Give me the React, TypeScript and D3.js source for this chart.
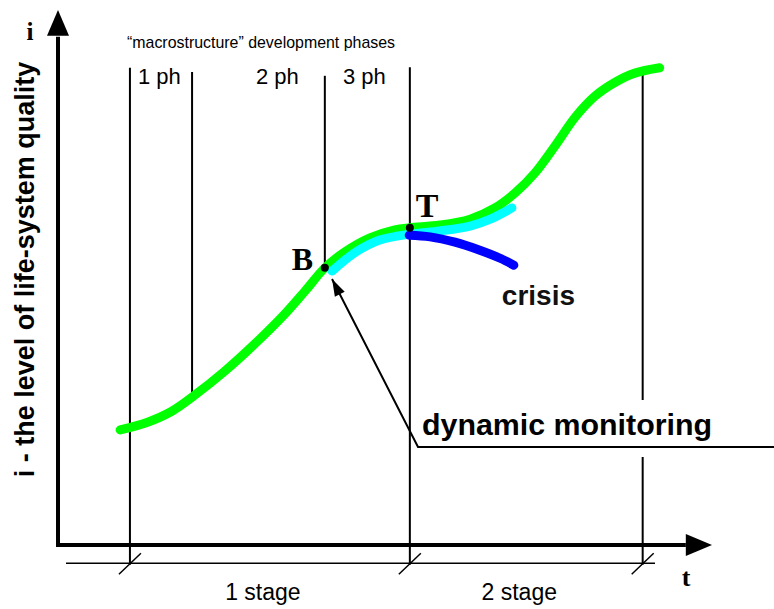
import * as d3 from "d3";

/** svg dimensions */
const width = 774;
const height = 609;

/** curve data: t (time) and i (life-system quality level), both on a 0..100 scale */
const greenT = [9.5, 13.8, 17.4, 20.9, 25.5, 30.1, 34.7, 37.8, 40.8, 43.9, 47.7, 51.5, 53.8, 58.4, 63.0, 66.8, 69.9, 72.9, 76.0, 79.1, 82.1, 85.2, 88.2, 92.0];
const greenI = [21.5, 23.0, 25.0, 28.0, 32.5, 37.6, 43.2, 47.5, 51.8, 54.8, 57.4, 58.9, 59.3, 59.8, 60.9, 63.0, 65.8, 69.5, 74.6, 80.0, 83.9, 86.5, 88.2, 89.2];

const monitorT = [41.9, 45.6, 49.2, 53.8, 58.4, 63.0, 66.1, 69.4];
const monitorI = [51.2, 54.8, 57.0, 58.1, 58.7, 59.6, 60.9, 63.0];

const crisisT = [53.7, 56.9, 60.7, 64.5, 67.6, 69.7];
const crisisI = [57.9, 57.6, 56.6, 55.1, 53.6, 52.3];

/** phase boundaries (vertical lines) */
const phaseT = [11.0, 20.5, 40.8, 53.8, 89.4];
const phaseTop = [89.2, 88.4, 87.7, 89.3, 88.4];
const phaseBottom = [-3.7, 28.0, 51.8, -3.7, -3.7];
const phaseLabels = ["1 ph", "2 ph", "3 ph"];

/** stages */
const stageBounds = [11.0, 53.8, 89.4];
const stageLabels = ["1 stage", "2 stage"];
const stageLevel = -3.4;

/** marked points */
const pointB = { t: 40.8, i: 51.8, label: "B" };
const pointT = { t: 53.8, i: 59.3, label: "T" };

const sans = "'Liberation Sans', Arial, sans-serif";
const serif = "'Liberation Serif', 'Times New Roman', serif";

const App = () => {
  const x = d3.scaleLinear().domain([0, 100]).range([58, 712]);
  const y = d3.scaleLinear().domain([0, 100]).range([545, 10]);

  const line = d3
    .line<[number, number]>()
    .x((d) => x(d[0]))
    .y((d) => y(d[1]))
    .curve(d3.curveCatmullRom.alpha(0.5));

  const zip = (ts: number[], is: number[]) =>
    ts.map((t, k) => [t, is[k]] as [number, number]);

  // leader arrow for "dynamic monitoring"
  const tail: [number, number] = [418, 447];
  const tip: [number, number] = [x(monitorT[0]), y(monitorI[0]) + 8];
  const dx = tip[0] - tail[0];
  const dy = tip[1] - tail[1];
  const len = Math.hypot(dx, dy);
  const ux = dx / len;
  const uy = dy / len;
  const headLen = 17;
  const headW = 5.5;
  const bx = tip[0] - ux * headLen;
  const by = tip[1] - uy * headLen;
  const head = [
    tip,
    [bx - uy * headW, by + ux * headW],
    [bx + uy * headW, by - ux * headW],
  ]
    .map((p) => p.join(","))
    .join(" ");

  const x0 = x(0);
  const y0 = y(0);

  return (
    <svg
      width={width}
      height={height}
      viewBox={[0, 0, width, height].join(" ")}
      style={{ position: "absolute", left: 0, top: 0, background: "#fff" }}
    >
      {/* phase lines */}
      {phaseT.map((t, k) => (
        <line
          key={`ph${k}`}
          x1={x(t)}
          x2={x(t)}
          y1={y(phaseTop[k])}
          y2={y(phaseBottom[k])}
          stroke="#000"
          strokeWidth={2}
        />
      ))}

      {/* title and phase labels */}
      <text
        x={127}
        y={48}
        fontFamily={"'Liberation Sans Narrow', 'Arial Narrow', " + sans}
        fontSize={17}
        textLength={268}
        lengthAdjust="spacingAndGlyphs"
      >
        “macrostructure” development phases
      </text>
      {phaseLabels.map((lab, k) => (
        <text
          key={lab}
          x={[138, 256, 343][k]}
          y={84}
          fontFamily={sans}
          fontSize={22}
        >
          {lab}
        </text>
      ))}

      {/* curves */}
      <path
        d={line(zip(greenT, greenI)) ?? ""}
        fill="none"
        stroke="#00ff00"
        strokeWidth={9}
        strokeLinecap="round"
      />
      <path
        d={line(zip(monitorT, monitorI)) ?? ""}
        fill="none"
        stroke="#00ffff"
        strokeWidth={9}
        strokeLinecap="round"
      />
      <path
        d={line(zip(crisisT, crisisI)) ?? ""}
        fill="none"
        stroke="#0000ff"
        strokeWidth={9}
        strokeLinecap="round"
      />

      {/* marked points */}
      {[pointB, pointT].map((p) => (
        <circle key={p.label} cx={x(p.t)} cy={y(p.i)} r={4} fill="#000" />
      ))}
      <text
        x={x(pointB.t) - 33}
        y={y(pointB.i) + 2}
        fontFamily={serif}
        fontWeight="bold"
        fontSize={32}
      >
        {pointB.label}
      </text>
      <text
        x={x(pointT.t) + 6}
        y={y(pointT.i) - 11}
        fontFamily={serif}
        fontWeight="bold"
        fontSize={34}
      >
        {pointT.label}
      </text>

      <text
        x={x(crisisT[crisisT.length - 1]) - 12}
        y={y(crisisI[crisisI.length - 1]) + 40}
        fontFamily={sans}
        fontWeight="bold"
        fontSize={28}
        fill="#111"
      >
        crisis
      </text>

      {/* dynamic monitoring callout */}
      <rect x={420} y={400} width={300} height={57} fill="#fff" />
      <text
        x={422}
        y={435}
        fontFamily={sans}
        fontWeight="bold"
        fontSize={29}
        textLength={290}
        lengthAdjust="spacingAndGlyphs"
      >
        dynamic monitoring
      </text>
      <polyline
        points={[tip, tail, [width, tail[1]]].map((p) => p.join(",")).join(" ")}
        fill="none"
        stroke="#000"
        strokeWidth={2}
      />
      <polygon points={head} fill="#000" />

      {/* axes */}
      <line x1={x0} x2={x0} y1={y0 + 2} y2={y(95)} stroke="#000" strokeWidth={4} />
      <polygon
        points={`${x0},${y(100)} ${x0 - 11},${y(95.2)} ${x0 + 11},${y(95.2)}`}
        fill="#000"
      />
      <line x1={x0 - 2} x2={x(96)} y1={y0} y2={y0} stroke="#000" strokeWidth={4} />
      <polygon
        points={`${x(100)},${y0} ${x(96)},${y0 - 11} ${x(96)},${y0 + 11}`}
        fill="#000"
      />
      <text x={30} y={40} textAnchor="middle" fontFamily={serif} fontWeight="bold" fontSize={25}>
        i
      </text>
      <text x={686} y={586} textAnchor="middle" fontFamily={serif} fontWeight="bold" fontSize={26}>
        t
      </text>
      <text
        transform={`translate(34, ${y(51.5)}) rotate(-90)`}
        textAnchor="middle"
        fontFamily={sans}
        fontWeight="bold"
        fontSize={27}
      >
        i - the level of life-system quality
      </text>

      {/* stage line with slashes */}
      <line
        x1={66}
        x2={655}
        y1={y(stageLevel)}
        y2={y(stageLevel)}
        stroke="#000"
        strokeWidth={1.5}
      />
      {stageBounds.map((t, k) => (
        <line
          key={`sl${k}`}
          x1={x(t) - 11}
          y1={y(stageLevel) + 11}
          x2={x(t) + 11}
          y2={y(stageLevel) - 10}
          stroke="#000"
          strokeWidth={1.5}
        />
      ))}
      {stageLabels.map((lab, k) => (
        <text
          key={lab}
          x={(x(stageBounds[k]) + x(stageBounds[k + 1])) / 2 - 7}
          y={600}
          textAnchor="middle"
          fontFamily={sans}
          fontSize={23}
        >
          {lab}
        </text>
      ))}
    </svg>
  );
};

export default App;
